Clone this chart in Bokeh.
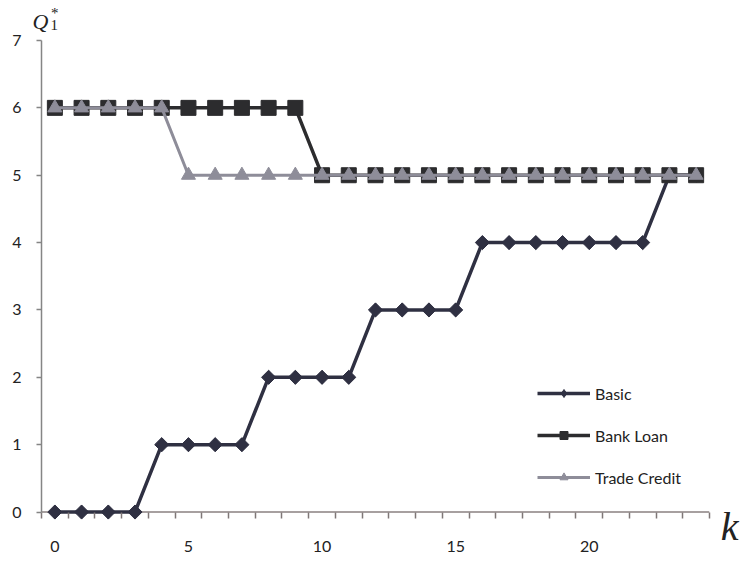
from bokeh.plotting import figure
from bokeh.models import Range1d, FixedTicker, Span, Label, Legend, LegendItem
from bokeh.embed import file_html
from bokeh.resources import INLINE
import math

k_values = list(range(25))
basic = [0, 0, 0, 0, 1, 1, 1, 1, 2, 2, 2, 2, 3, 3, 3, 3, 4, 4, 4, 4, 4, 4, 4, 5, 5]
bank_loan = [6, 6, 6, 6, 6, 6, 6, 6, 6, 6, 5, 5, 5, 5, 5, 5, 5, 5, 5, 5, 5, 5, 5, 5, 5]
trade_credit = [6, 6, 6, 6, 6, 5, 5, 5, 5, 5, 5, 5, 5, 5, 5, 5, 5, 5, 5, 5, 5, 5, 5, 5, 5]
x_tick_labels = [0, 5, 10, 15, 20]
y_ticks = [0, 1, 2, 3, 4, 5, 6, 7]

FONT = "Lato"
p = figure(width=742, height=564, output_backend="svg", toolbar_location=None,
           x_range=Range1d(-0.5, 24.5), y_range=Range1d(-0.2, 7),
           min_border_left=41, min_border_right=33, min_border_top=40, min_border_bottom=39)
p.outline_line_color = None
p.grid.visible = False
p.background_fill_color = "white"

# x axis
xa = p.xaxis[0]
xa.ticker = FixedTicker(ticks=x_tick_labels, minor_ticks=[-0.5] + [k + 0.5 for k in k_values])
xa.axis_line_color = None
xa.major_tick_in = 0
xa.major_tick_out = 0
xa.minor_tick_in = 13
xa.minor_tick_out = -7
xa.minor_tick_line_color = "#7f7777"
xa.minor_tick_line_width = 1.5
xa.major_label_standoff = 15
xa.major_label_text_font = FONT
xa.major_label_text_font_size = "16px"
xa.major_label_text_color = "#222222"

p.add_layout(Span(location=0, dimension="width", line_color="#8a8080", line_width=1.5, level="underlay"))

# y axis
ya = p.yaxis[0]
ya.ticker = FixedTicker(ticks=y_ticks)
ya.bounds = (0, 7)
ya.axis_line_color = "#858585"
ya.axis_line_width = 1.5
ya.major_tick_in = 0
ya.major_tick_out = 5
ya.major_tick_line_color = "#858585"
ya.major_tick_line_width = 1.5
ya.minor_tick_line_color = None
ya.major_label_standoff = 15
ya.major_label_text_font = FONT
ya.major_label_text_font_size = "16px"
ya.major_label_text_color = "#222222"

c_basic = "#2f3042"
c_bank = "#2c2c2e"
c_trade = "#8e8d99"

l1 = p.line(k_values, basic, line_color=c_basic, line_width=3.5)
# diamond key (used by the legend), drawn beneath the square-on-point markers
m1_key = p.scatter(k_values, basic, marker="diamond", size=13, fill_color=c_basic, line_color=c_basic)
m1 = p.scatter(k_values, basic, marker="square", angle=math.pi / 4, size=10,
               fill_color=c_basic, line_color=c_basic)
l2 = p.line(k_values, bank_loan, line_color=c_bank, line_width=3.5)
m2 = p.scatter(k_values, bank_loan, marker="square", size=15,
               fill_color=c_bank, line_color=c_bank)
l3 = p.line(k_values, trade_credit, line_color=c_trade, line_width=3)
m3 = p.scatter(k_values, trade_credit, marker="triangle", size=14,
               fill_color=c_trade, line_color=c_trade)

legend = Legend(items=[
    LegendItem(label="Basic", renderers=[l1, m1_key]),
    LegendItem(label="Bank Loan", renderers=[l2, m2]),
    LegendItem(label="Trade Credit", renderers=[l3, m3]),
], location=(496, 38), border_line_color=None, background_fill_alpha=0,
    padding=0, margin=0, spacing=22, glyph_width=53, glyph_height=20,
    label_height=20, label_standoff=5, label_text_font=FONT,
    label_text_font_size="16px", label_text_color="#222222")
p.add_layout(legend)

serif = "Liberation Serif"
p.add_layout(Label(x=-0.837, y=7.282, text="Q", text_font=serif, text_font_style="italic",
                   text_font_size="22px", text_baseline="alphabetic", text_color="#222222"), "above")
p.add_layout(Label(x=-0.163, y=7.23, text="1", text_font=serif, text_font_size="15px",
                   text_baseline="alphabetic", text_color="#222222"), "left")
p.add_layout(Label(x=-0.144, y=7.401, text="*", text_font=serif, text_font_size="15px",
                   text_baseline="alphabetic", text_color="#222222"), "right")
p.add_layout(Label(x=25.585, y=-0.215, text="k", text_font=serif, text_font_style="italic",
                   text_font_size="40px", text_align="right", text_baseline="alphabetic",
                   text_color="#222222"), "right")

open("out.html", "w").write(file_html(p, INLINE))
